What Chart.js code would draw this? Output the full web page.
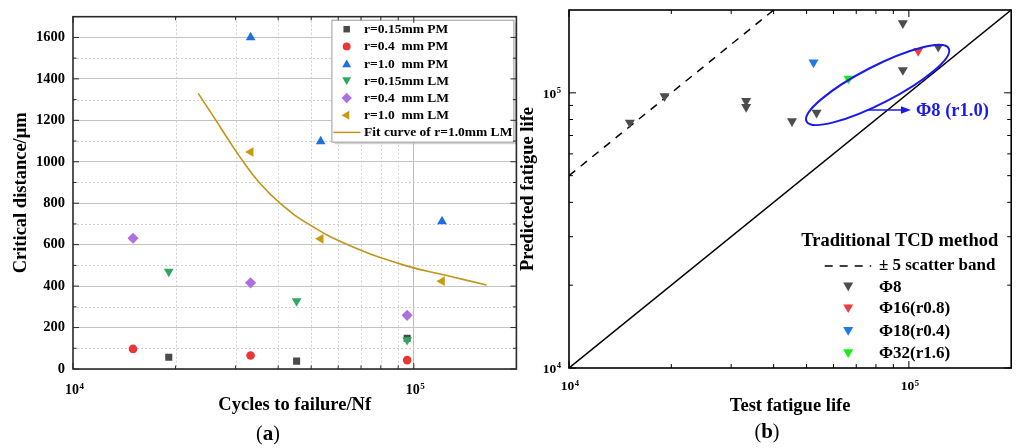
<!DOCTYPE html>
<html><head><meta charset="utf-8">
<script src="https://cdn.jsdelivr.net/npm/chart.js@4.4.1/dist/chart.umd.min.js"></script>
<style>
html,body{margin:0;padding:0;background:#fff;}
#wrap{position:relative;width:1017px;height:448px;overflow:hidden;background:#fff;}
#ca{position:absolute;left:0;top:0;}
#cb{position:absolute;left:510px;top:0;}
</style></head><body>
<div id="wrap"><canvas id="ca" width="522" height="448"></canvas><canvas id="cb" width="507" height="448"></canvas></div>
<script>
// ---------- Panel (a) data ----------
const aLabels = ['r=0.15mm PM','r=0.4  mm PM','r=1.0  mm PM','r=0.15mm LM','r=0.4  mm LM','r=1.0  mm LM'];
const aFitLabel = 'Fit curve of r=1.0mm LM';
const aPM015X = [1.91e4, 4.53e4, 9.56e4];
const aPM015Y = [57, 38, 148];
const aPM04X  = [1.50e4, 3.32e4, 9.56e4];
const aPM04Y  = [97, 65, 43];
const aPM10X  = [3.32e4, 5.33e4, 1.21e5];
const aPM10Y  = [1600, 1098, 712];
const aLM015X = [1.91e4, 4.53e4, 9.56e4];
const aLM015Y = [470, 328, 140];
const aLM04X  = [1.50e4, 3.32e4, 9.56e4];
const aLM04Y  = [631, 416, 259];
const aLM10X  = [3.32e4, 5.33e4, 1.21e5];
const aLM10Y  = [1047, 628, 424];
const aFitX = [2.33e4, 2.627e4, 2.873e4, 3.16e4, 3.52e4, 4.05e4, 4.9e4, 6.4e4, 9.41e4, 1.275e5, 1.634e5];
const aFitY = [1330, 1200, 1100, 1000, 900, 800, 700, 600, 500, 448, 405];
const aXTicks = [1e4, 1e5];
const aXTickExp = ['4', '5'];
const aXMinor = [2e4, 3e4, 4e4, 5e4, 6e4, 7e4, 8e4, 9e4];
const aYTicks = [0, 200, 400, 600, 800, 1000, 1200, 1400, 1600];
const aYMinor = [100, 300, 500, 700, 900, 1100, 1300, 1500];

// ---------- Panel (b) data ----------
const bLabels = ['\u03A68', '\u03A616(r0.8)', '\u03A618(r0.4)', '\u03A632(r1.6)'];
const bBandLabel = '\u00B1 5 scatter band';
const bLegendTitle = 'Traditional TCD method';
const bPhi8X = [1.51e4, 1.91e4, 3.32e4, 3.32e4, 4.53e4, 5.35e4, 9.6e4, 9.6e4, 1.22e5];
const bPhi8Y = [7.80e4, 9.73e4, 9.35e4, 8.89e4, 7.89e4, 8.47e4, 1.79e5, 1.21e5, 1.47e5];
const bPhi16X = [1.065e5];
const bPhi16Y = [1.42e5];
const bPhi18X = [5.24e4];
const bPhi18Y = [1.29e5];
const bPhi32X = [6.64e4];
const bPhi32Y = [1.127e5];
const bDiagX = [1e4, 2e5];
const bDiagY = [1e4, 2e5];
const bBandX = [1e4, 4e4];
const bBandY = [5e4, 2e5];
const bXTicks = [1e4, 1e5];
const bYTicks = [1e4, 1e5];
const bTickExp = ['4', '5'];
const bMinor = [2e4, 3e4, 4e4, 5e4, 6e4, 7e4, 8e4, 9e4];
const bEllipseEnds = [[5.0e4, 7.87e4], [1.31e5, 1.45e5]];
const bArrowFrom = [7.53e4, 8.66e4];
const bArrowTo = [1.014e5, 8.66e4];
const bNote = '\u03A68 (r1.0)';

Chart.defaults.font.family = '"Liberation Serif", "Times New Roman", serif';
Chart.defaults.color = '#000';

const pts = (xs, ys) => xs.map((x, i) => ({x, y: ys[i]}));

// draws "10" with a raised exponent; align: 'center' or 'right'
function powLabel(ctx, x, yCenter, exp, size, align) {
  ctx.save();
  ctx.fillStyle = '#000';
  ctx.textBaseline = 'alphabetic'; ctx.textAlign = 'left';
  const fb = 'bold ' + size + 'px "Liberation Serif"';
  const fe = 'bold ' + (size * 0.64).toFixed(1) + 'px "Liberation Serif"';
  ctx.font = fb; const wb = ctx.measureText('10').width;
  ctx.font = fe; const we = ctx.measureText(exp).width;
  const w = wb + we + 0.5;
  const x0 = align === 'right' ? x - w : x - w / 2;
  const base = yCenter + size * 0.33;
  ctx.font = fb; ctx.fillText('10', x0, base);
  ctx.font = fe; ctx.fillText(exp, x0 + wb + 0.5, base - size * 0.36);
  ctx.restore();
}

function drawFrameTicks(chart, o) {
  const {ctx, chartArea: ca, scales: {x, y}} = chart;
  ctx.save();
  ctx.strokeStyle = o.color; ctx.lineWidth = o.tickWidth;
  ctx.beginPath();
  const vx = (v, len) => { const p = x.getPixelForValue(v); ctx.moveTo(p, ca.bottom); ctx.lineTo(p, ca.bottom - len); ctx.moveTo(p, ca.top); ctx.lineTo(p, ca.top + len); };
  const vy = (v, len) => { const p = y.getPixelForValue(v); ctx.moveTo(ca.left, p); ctx.lineTo(ca.left + len, p); ctx.moveTo(ca.right, p); ctx.lineTo(ca.right - len, p); };
  o.xMajor.forEach(v => vx(v, o.major)); o.xMinor.forEach(v => vx(v, o.minor));
  o.yMajor.forEach(v => vy(v, o.major)); o.yMinor.forEach(v => vy(v, o.minor));
  ctx.stroke();
  ctx.lineWidth = o.frameWidth;
  ctx.strokeRect(ca.left, ca.top, ca.right - ca.left, ca.bottom - ca.top);
  ctx.restore();
}

function marker(ctx, style, rot, r, color, x, y) {
  ctx.save();
  ctx.fillStyle = color; ctx.strokeStyle = color;
  Chart.helpers.drawPoint(ctx, {pointStyle: style, radius: r, rotation: rot, borderWidth: 0}, x, y);
  ctx.restore();
}

function panelLabel(ctx, letter, cx, cy) {
  ctx.save();
  ctx.textBaseline = 'middle';
  ctx.fillStyle = '#000';
  const fr = '20px "Liberation Serif"', fb = 'bold 21px "Liberation Serif"';
  ctx.font = fr; const wp = ctx.measureText('(').width;
  ctx.font = fb; const wl = ctx.measureText(letter).width;
  let x0 = cx - (wp * 2 + wl) / 2;
  ctx.font = fr; ctx.textAlign = 'left'; ctx.fillText('(', x0, cy);
  ctx.font = fb; ctx.fillText(letter, x0 + wp, cy);
  ctx.font = fr; ctx.fillText(')', x0 + wp + wl, cy);
  ctx.restore();
}

// ---------- Chart (a) ----------
const aStyles = [
  {c: '#4a4a4a', s: 'rect', rot: 0, r: 5},
  {c: '#ee3535', s: 'circle', rot: 0, r: 4.3},
  {c: '#1f6fe0', s: 'triangle', rot: 0, r: 5.6},
  {c: '#2ea85e', s: 'triangle', rot: 180, r: 5.6},
  {c: '#ad70e0', s: 'rectRot', rot: 0, r: 5.6},
  {c: '#c99a0e', s: 'triangle', rot: 270, r: 5.6}
];
const aData = [pts(aPM015X, aPM015Y), pts(aPM04X, aPM04Y), pts(aPM10X, aPM10Y), pts(aLM015X, aLM015Y), pts(aLM04X, aLM04Y), pts(aLM10X, aLM10Y)];
const fitColor = '#c3941a';

const aPlugin = {
  id: 'aDeco',
  beforeDatasetsDraw(chart) {
    const {ctx, chartArea: ca, scales: {x, y}} = chart;
    ctx.save();
    ctx.strokeStyle = '#cfcfcf'; ctx.lineWidth = 1; ctx.setLineDash([2, 2]);
    ctx.beginPath();
    aXMinor.forEach(v => { const p = Math.round(x.getPixelForValue(v)) + 0.5; ctx.moveTo(p, ca.top); ctx.lineTo(p, ca.bottom); });
    aYMinor.forEach(v => { const p = Math.round(y.getPixelForValue(v)) + 0.5; ctx.moveTo(ca.left, p); ctx.lineTo(ca.right, p); });
    ctx.stroke();
    ctx.restore();
  },
  afterDatasetsDraw(chart) {
    const {ctx, chartArea: ca} = chart;
    const L = ca.right - 185, T = ca.top + 3, W = 182, H = 122;
    ctx.save();
    ctx.fillStyle = '#fff'; ctx.fillRect(L, T, W, H);
    ctx.strokeStyle = '#9a9a9a'; ctx.lineWidth = 1;
    ctx.strokeRect(L + 0.5, T + 0.5, W, H);
    ctx.strokeStyle = '#c8c8c8';
    ctx.beginPath(); ctx.moveTo(L + W + 2, T + 3); ctx.lineTo(L + W + 2, T + H + 2); ctx.lineTo(L + 3, T + H + 2); ctx.stroke();
    ctx.font = 'bold 13.5px "Liberation Serif"'; ctx.fillStyle = '#000'; ctx.textBaseline = 'middle'; ctx.textAlign = 'left';
    const step = 17.2;
    aLabels.forEach((t, i) => {
      const yy = T + 9.5 + i * step;
      const st = aStyles[i];
      marker(ctx, st.s, st.rot, st.r * 0.92, st.c, L + 15.3, yy + (st.s === 'triangle' && st.rot === 0 ? 1 : (st.rot === 180 ? -1 : 0)));
      ctx.fillStyle = '#000';
      ctx.fillText(t, L + 32.7, yy + 0.5);
    });
    const yy = T + 9.5 + 6 * step;
    ctx.strokeStyle = fitColor; ctx.lineWidth = 1.5;
    ctx.beginPath(); ctx.moveTo(L + 2, yy); ctx.lineTo(L + 29, yy); ctx.stroke();
    ctx.fillStyle = '#000';
    ctx.fillText(aFitLabel, L + 32.7, yy + 0.5);
    ctx.restore();
  },
  afterDraw(chart) {
    const {ctx, chartArea: ca, scales: {x}} = chart;
    drawFrameTicks(chart, {color: '#2a2a2a', tickWidth: 1, frameWidth: 1.6, major: 6, minor: 3.5,
      xMajor: aXTicks, xMinor: aXMinor, yMajor: aYTicks, yMinor: aYMinor});
    aXTicks.forEach((v, i) => powLabel(ctx, x.getPixelForValue(v) + 1.5, ca.bottom + 20, aXTickExp[i], 14, 'center'));
    panelLabel(ctx, 'a', 268, 435);
  }
};

new Chart(document.getElementById('ca'), {
  type: 'scatter',
  data: {
    datasets: aData.map((d, i) => ({
      label: aLabels[i], data: d, order: -i,
      pointStyle: aStyles[i].s, pointRotation: aStyles[i].rot, pointRadius: aStyles[i].r,
      pointBackgroundColor: aStyles[i].c, pointBorderColor: aStyles[i].c, pointBorderWidth: 0, showLine: false
    })).concat([{
      type: 'line', label: aFitLabel, data: pts(aFitX, aFitY), order: 10,
      borderColor: fitColor, borderWidth: 1.6, pointRadius: 0, fill: false, tension: 0.45
    }])
  },
  options: {
    responsive: false, animation: false, events: [],
    layout: {padding: {left: 0, top: 12, right: 3, bottom: 0}},
    plugins: {legend: {display: false}, tooltip: {enabled: false}},
    scales: {
      x: {
        type: 'logarithmic', min: 1e4, max: 2e5,
        afterBuildTicks: s => { s.ticks = aXTicks.map(v => ({value: v})); },
        afterFit: s => { s.height = 79; },
        ticks: {display: false},
        grid: {drawTicks: false, lineWidth: 1, color: c => (c.tick && c.tick.value === 1e5) ? '#bdbdbd' : 'rgba(0,0,0,0)'},
        border: {display: false},
        title: {display: true, text: 'Cycles to failure/Nf', font: {size: 18.5, weight: 'bold'}, color: '#000', padding: {top: 0, bottom: 32}}
      },
      y: {
        type: 'linear', min: 0, max: 1700,
        afterBuildTicks: s => { s.ticks = aYTicks.map(v => ({value: v})); },
        afterFit: s => { s.width = 73; },
        ticks: {callback: v => String(v), font: {size: 14.5, weight: 'bold'}, color: '#000', padding: 8},
        grid: {drawTicks: false, lineWidth: 1, color: '#c4c4c4'},
        border: {display: false},
        title: {display: true, text: 'Critical distance/\u03BCm', font: {size: 18.5, weight: 'bold'}, color: '#000', padding: {top: 10.6, bottom: 0}}
      }
    }
  },
  plugins: [aPlugin]
});

// ---------- Chart (b) ----------
const bStyles = [
  {c: '#4d4d4d'}, {c: '#f03c3c'}, {c: '#1f78e6'}, {c: '#16ef16'}
];
const bData = [pts(bPhi8X, bPhi8Y), pts(bPhi16X, bPhi16Y), pts(bPhi18X, bPhi18Y), pts(bPhi32X, bPhi32Y)];
const noteColor = '#1a1aee';

const bPlugin = {
  id: 'bDeco',
  afterDatasetsDraw(chart) {
    const {ctx, chartArea: ca, scales: {x, y}} = chart;
    ctx.save();
    const p1 = [x.getPixelForValue(bEllipseEnds[0][0]), y.getPixelForValue(bEllipseEnds[0][1])];
    const p2 = [x.getPixelForValue(bEllipseEnds[1][0]), y.getPixelForValue(bEllipseEnds[1][1])];
    const cx = (p1[0] + p2[0]) / 2, cy = (p1[1] + p2[1]) / 2;
    const a = Math.hypot(p2[0] - p1[0], p2[1] - p1[1]) / 2;
    const ang = Math.atan2(p2[1] - p1[1], p2[0] - p1[0]);
    ctx.strokeStyle = noteColor; ctx.lineWidth = 2;
    ctx.beginPath(); ctx.ellipse(cx, cy, a, 18.5, ang, 0, Math.PI * 2); ctx.stroke();
    const ax0 = x.getPixelForValue(bArrowFrom[0]), ay0 = y.getPixelForValue(bArrowFrom[1]);
    const ax1 = x.getPixelForValue(bArrowTo[0]), ay1 = y.getPixelForValue(bArrowTo[1]);
    ctx.lineWidth = 1.6;
    ctx.beginPath(); ctx.moveTo(ax0, ay0); ctx.lineTo(ax1 - 8, ay1); ctx.stroke();
    ctx.fillStyle = noteColor;
    ctx.beginPath(); ctx.moveTo(ax1, ay1); ctx.lineTo(ax1 - 10, ay1 - 3.8); ctx.lineTo(ax1 - 10, ay1 + 3.8); ctx.closePath(); ctx.fill();
    ctx.font = 'bold 18.5px "Liberation Serif"'; ctx.textBaseline = 'middle'; ctx.textAlign = 'left';
    ctx.fillText(bNote, ax1 + 5, ay1 + 1);
    ctx.fillStyle = '#000';
    ctx.font = 'bold 18.5px "Liberation Serif"';
    ctx.fillText(bLegendTitle, ca.right - 210, 241);
    ctx.font = 'bold 17px "Liberation Serif"';
    const tx = ca.right - 132.3, mx = ca.right - 163;
    ctx.strokeStyle = '#000'; ctx.lineWidth = 1.6; ctx.setLineDash([8, 7]);
    ctx.beginPath(); ctx.moveTo(mx - 23.5, 266); ctx.lineTo(mx + 23, 266); ctx.stroke();
    ctx.setLineDash([]);
    ctx.fillText(bBandLabel, tx, 266);
    const ys = [286.7, 308.6, 331.2, 353.4];
    bLabels.forEach((t, i) => {
      marker(ctx, 'triangle', 180, 5.8, bStyles[i].c, mx, ys[i] - 1.3);
      ctx.fillStyle = '#000';
      ctx.fillText(t, tx, ys[i] + 0.5);
    });
    ctx.restore();
  },
  afterDraw(chart) {
    const {ctx, chartArea: ca, scales: {x, y}} = chart;
    drawFrameTicks(chart, {color: '#000', tickWidth: 1, frameWidth: 1.6, major: 7, minor: 4,
      xMajor: bXTicks, xMinor: bMinor, yMajor: bYTicks, yMinor: bMinor});
    bXTicks.forEach((v, i) => powLabel(ctx, x.getPixelForValue(v) + 1, ca.bottom + 18, bTickExp[i], 13.5, 'center'));
    bYTicks.forEach((v, i) => powLabel(ctx, ca.left - 8, y.getPixelForValue(v) + 0.5, bTickExp[i], 13.5, 'right'));
    panelLabel(ctx, 'b', 767 - 510, 433);
  }
};

new Chart(document.getElementById('cb'), {
  type: 'scatter',
  data: {
    datasets: bData.map((d, i) => ({
      label: bLabels[i], data: d, order: -i,
      pointStyle: 'triangle', pointRotation: 180, pointRadius: 5.8,
      pointBackgroundColor: bStyles[i].c, pointBorderColor: bStyles[i].c, pointBorderWidth: 0, showLine: false
    })).concat([
      {type: 'line', label: 'y=x', data: pts(bDiagX, bDiagY), order: 10, borderColor: '#000', borderWidth: 1.5, pointRadius: 0, fill: false},
      {type: 'line', label: bBandLabel, data: pts(bBandX, bBandY), order: 11, borderColor: '#000', borderWidth: 1.5, borderDash: [8, 7], pointRadius: 0, fill: false}
    ])
  },
  options: {
    responsive: false, animation: false, events: [],
    layout: {padding: {left: 0, top: 10, right: 3, bottom: 0}},
    plugins: {legend: {display: false}, tooltip: {enabled: false}},
    scales: {
      x: {
        type: 'logarithmic', min: 1e4, max: 2e5,
        afterBuildTicks: s => { s.ticks = bXTicks.map(v => ({value: v})); },
        afterFit: s => { s.height = 80; },
        ticks: {display: false},
        grid: {display: false, drawTicks: false},
        border: {display: false},
        title: {display: true, text: 'Test fatigue life', font: {size: 18.5, weight: 'bold'}, color: '#000', padding: {top: 0, bottom: 31}}
      },
      y: {
        type: 'logarithmic', min: 1e4, max: 2e5,
        afterBuildTicks: s => { s.ticks = bYTicks.map(v => ({value: v})); },
        afterFit: s => { s.width = 59; },
        ticks: {display: false},
        grid: {display: false, drawTicks: false},
        border: {display: false},
        title: {display: true, text: 'Predicted fatigue life', font: {size: 18.5, weight: 'bold'}, color: '#000', padding: {top: 7, bottom: 0}}
      }
    }
  },
  plugins: [bPlugin]
});
</script>
</body></html>
